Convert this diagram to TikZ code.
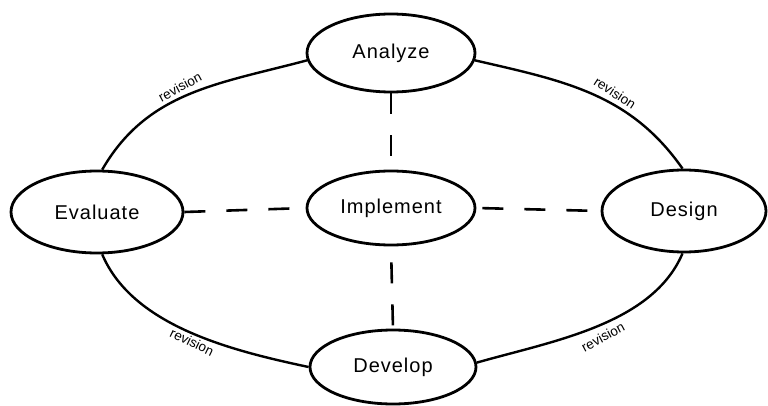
\documentclass[tikz,border=0pt]{standalone}
\usepackage{fontspec}
\setmainfont{Liberation Sans}
\newfontfamily\phasefont[LetterSpace=5]{Liberation Sans}
\usetikzlibrary{shapes.geometric}
\begin{document}
\begin{tikzpicture}[x=1pt,y=1pt,
  phase/.style={ellipse, draw, line width=2.8pt, inner sep=0pt, font=\phasefont\fontsize{20}{24}\selectfont},
  cyc/.style={line width=2.4pt},
  link/.style={line width=2.6pt, dash pattern=on 21pt off 21pt},
  rev/.style={font=\fontsize{13.5}{15}\selectfont, inner sep=0pt}]
\useasboundingbox (0,0) rectangle (768,-406);
\node[phase, minimum width=168pt, minimum height=78pt] (analyze) at (391,-53) {Analyze};
\node[phase, minimum width=168pt, minimum height=74pt] (implement) at (391,-208) {Implement};
\node[phase, minimum width=166pt, minimum height=74pt] (develop) at (393,-367) {Develop};
\node[phase, minimum width=172pt, minimum height=82pt] (evaluate) at (97,-212) {Evaluate};
\node[phase, minimum width=164pt, minimum height=82pt] (design) at (684,-211) {Design};

\draw[cyc] (analyze.185) to[out=195,in=60] (evaluate.83);
\draw[cyc] (analyze.355) to[out=-13,in=125] (design.92);
\draw[cyc] (evaluate.-83) to[out=-67,in=168,looseness=0.85] (develop.180);
\draw[cyc] (develop.3) to[out=16,in=-113,looseness=0.85] (design.-92);

\node[rev, rotate=28] (r1) at (180,-87) {revision};
\node[rev, rotate=-33] (r2) at (615,-93) {revision};
\node[rev, rotate=-26] (r3) at (192,-342) {revision};
\node[rev, rotate=28] (r4) at (603,-337) {revision};

\draw[link] (analyze.south) -- (implement.north);
\draw[link, dash phase=26pt] (implement.south) -- (develop.north);
\draw[link] (evaluate.east) -- (implement.west);
\draw[link, dash phase=36pt] (implement.east) -- (design.west);
\end{tikzpicture}
\end{document}
